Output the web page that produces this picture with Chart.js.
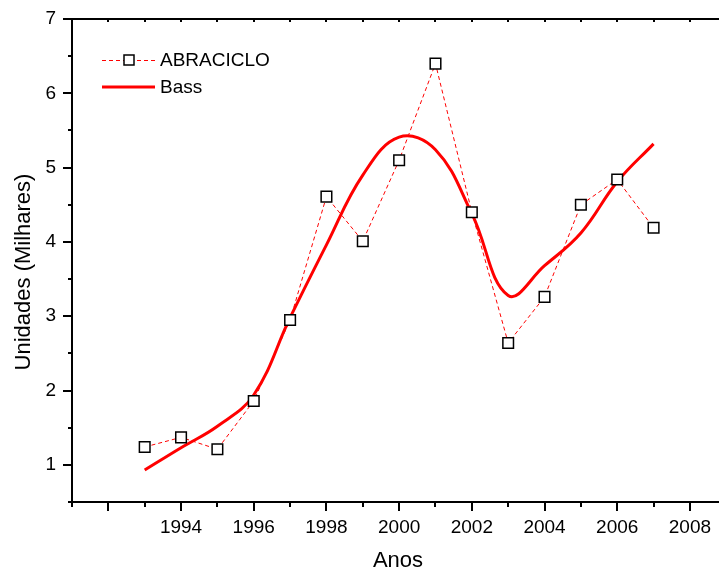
<!DOCTYPE html>
<html>
<head>
<meta charset="utf-8">
<script src="https://cdn.jsdelivr.net/npm/chart.js@4/dist/chart.umd.min.js"></script>
<style>
  html, body { margin: 0; padding: 0; background: #ffffff; }
  #wrap { width: 719px; height: 571px; }
</style>
</head>
<body>
<div id="wrap"><canvas id="c" width="719" height="571"></canvas></div>
<script>
// Annual sales (thousands of units) and the fitted Bass diffusion curve
const years = [1993, 1994, 1995, 1996, 1997, 1998, 1999, 2000, 2001, 2002, 2003, 2004, 2005, 2006, 2007];
const abraciclo = [1.24, 1.37, 1.21, 1.86, 2.95, 4.61, 4.01, 5.10, 6.40, 4.40, 2.64, 3.26, 4.50, 4.84, 4.19];
const bass = [0.93, 1.23, 1.52, 1.94, 2.98, 3.96, 4.90, 5.41, 5.24, 4.38, 3.28, 3.68, 4.12, 4.81, 5.32];
const xTickLabels = ['1994', '1996', '1998', '2000', '2002', '2004', '2006', '2008'];
const yTickLabels = ['1', '2', '3', '4', '5', '6', '7'];
const seriesNames = ['ABRACICLO', 'Bass'];
const xTitle = 'Anos';
const yTitle = 'Unidades (Milhares)';
const xRange = [1991, 2008.8];
const yRange = [0.5, 7];

const FONT = '"Liberation Sans", Arial, sans-serif';
const RED = '#ff0000';

const toPoints = (vals) => years.map((y, i) => ({ x: y, y: vals[i] }));

// Keep the plot frame fixed: no extra room reserved for edge labels
const noEdgePadding = s => {
  s.paddingTop = 0; s.paddingBottom = 0; s.paddingLeft = 0; s.paddingRight = 0;
};
// Hold the axis at its configured range and keep only half-step ticks inside it
const holdRange = s => {
  s.min = s.options.min;
  s.max = s.options.max;
  s.ticks = s.ticks.filter(t => t.value >= s.min && t.value <= s.max &&
    Math.abs(t.value * 2 - Math.round(t.value * 2)) < 1e-9);
};

// Tick marks: long outward ticks at labelled steps, short ones in between,
// plus small inward ticks along the top frame line.
const tickMarks = {
  id: 'tickMarks',
  afterDraw(chart) {
    const { ctx, chartArea: a, scales } = chart;
    ctx.save();
    ctx.strokeStyle = '#000';
    ctx.lineWidth = 2;
    ctx.beginPath();
    scales.x.ticks.forEach(t => {
      const px = Math.round(scales.x.getPixelForValue(t.value));
      const len = t.value % 2 === 0 ? 9 : 5;
      ctx.moveTo(px, a.bottom);
      ctx.lineTo(px, a.bottom + len);
      ctx.moveTo(px, a.top);
      ctx.lineTo(px, a.top + 3);
    });
    scales.y.ticks.forEach(t => {
      const py = Math.round(scales.y.getPixelForValue(t.value));
      const len = Number.isInteger(t.value) ? 9 : 4;
      ctx.moveTo(a.left - len, py);
      ctx.lineTo(a.left, py);
    });
    ctx.stroke();
    ctx.restore();
  }
};

// Axis titles and the in-plot legend
const annotations = {
  id: 'annotations',
  afterDraw(chart) {
    const { ctx, chartArea: a } = chart;
    const ds = chart.data.datasets;
    ctx.save();
    ctx.fillStyle = '#000';
    ctx.textBaseline = 'middle';

    // x title
    ctx.font = '22px ' + FONT;
    ctx.textAlign = 'center';
    ctx.fillText(xTitle, 398, 561);

    // y title
    ctx.save();
    ctx.translate(24, 272);
    ctx.rotate(-Math.PI / 2);
    ctx.fillText(yTitle, 0, 0);
    ctx.restore();

    // legend
    const lx0 = a.left + 30, lx1 = a.left + 83, tx = a.left + 88;
    const rows = [a.top + 41, a.top + 68];
    ctx.font = '19px ' + FONT;
    ctx.textAlign = 'left';

    // dashed series sample with square marker
    ctx.strokeStyle = ds[0].borderColor;
    ctx.lineWidth = ds[0].borderWidth;
    ctx.setLineDash(ds[0].borderDash);
    ctx.beginPath();
    ctx.moveTo(lx0, rows[0] + 0.5);
    ctx.lineTo(lx1, rows[0] + 0.5);
    ctx.stroke();
    ctx.setLineDash([]);
    const mx = Math.round((lx0 + lx1) / 2);
    ctx.fillStyle = '#fff';
    ctx.strokeStyle = '#000';
    ctx.lineWidth = 1.5;
    ctx.fillRect(mx - 5, rows[0] - 5, 10, 10);
    ctx.strokeRect(mx - 5, rows[0] - 5, 10, 10);
    ctx.fillStyle = '#000';
    ctx.fillText(ds[0].label, tx, rows[0] + 1);

    // solid curve sample
    ctx.strokeStyle = ds[1].borderColor;
    ctx.lineWidth = ds[1].borderWidth;
    ctx.beginPath();
    ctx.moveTo(lx0, rows[1]);
    ctx.lineTo(lx1, rows[1]);
    ctx.stroke();
    ctx.fillText(ds[1].label, tx, rows[1] + 1);
    ctx.restore();
  }
};

new Chart(document.getElementById('c'), {
  type: 'line',
  data: {
    datasets: [
      {
        label: seriesNames[0],
        data: toPoints(abraciclo),
        borderColor: RED,
        borderWidth: 1,
        borderDash: [4, 3],
        tension: 0,
        pointStyle: 'rect',
        pointRadius: 7.5,
        pointBorderWidth: 1.5,
        pointBorderColor: '#000',
        pointBackgroundColor: '#fff',
        order: 0
      },
      {
        label: seriesNames[1],
        data: toPoints(bass),
        borderColor: RED,
        borderWidth: 3,
        tension: 0.4,
        pointRadius: 0,
        order: 1
      }
    ]
  },
  options: {
    responsive: false,
    animation: false,
    devicePixelRatio: 1,
    layout: { autoPadding: false, padding: { top: 19, right: 0, bottom: 0, left: 0 } },
    plugins: { legend: { display: false }, tooltip: { enabled: false } },
    scales: {
      x: {
        type: 'linear',
        position: 'bottom',
        bounds: 'data',
        min: xRange[0],
        max: xRange[1],
        afterBuildTicks: holdRange,
        afterFit: s => { s.height = 69; noEdgePadding(s); },
        grid: { display: false, drawTicks: false },
        border: { display: true, color: '#000', width: 2 },
        ticks: {
          stepSize: 1,
          includeBounds: false,
          autoSkip: false,
          maxRotation: 0,
          padding: 14,
          color: '#000',
          font: { family: FONT, size: 19 },
          callback: v => xTickLabels.includes(String(v)) ? String(v) : ''
        }
      },
      xTop: {
        type: 'linear',
        position: 'top',
        bounds: 'data',
        min: xRange[0],
        max: xRange[1],
        afterBuildTicks: holdRange,
        afterFit: s => { s.height = 0; noEdgePadding(s); },
        grid: { display: false, drawTicks: false },
        border: { display: true, color: '#000', width: 2 },
        ticks: { display: false }
      },
      y: {
        type: 'linear',
        min: yRange[0],
        max: yRange[1],
        afterBuildTicks: holdRange,
        afterFit: s => { s.width = 72; noEdgePadding(s); },
        grid: { display: false, drawTicks: false },
        border: { display: true, color: '#000', width: 2 },
        ticks: {
          stepSize: 0.5,
          autoSkip: false,
          padding: 16,
          color: '#000',
          font: { family: FONT, size: 19 },
          callback: v => yTickLabels.includes(String(v)) ? String(v) : ''
        }
      }
    }
  },
  plugins: [tickMarks, annotations]
});
</script>
</body>
</html>
